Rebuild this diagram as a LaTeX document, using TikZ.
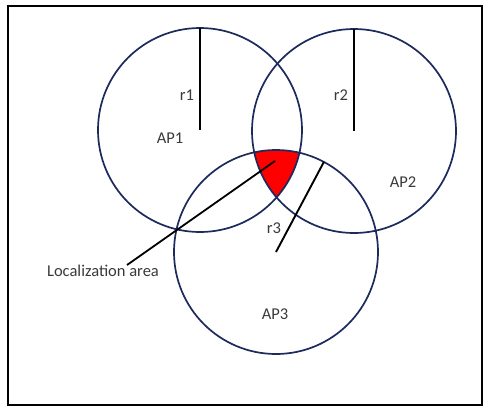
\documentclass[tikz,border=0pt]{standalone}
\usepackage{fontspec}
\setmainfont{Carlito}
\definecolor{navy}{HTML}{1C2A5C}
\definecolor{lbl}{HTML}{3A3A3A}
\begin{document}
\begin{tikzpicture}[x=1pt,y=-1pt,
  apcircle/.style={circle,draw=navy,line width=1.7pt,minimum size=204pt,inner sep=0pt,outer sep=0pt},
  radius/.style={draw=black,line width=1.9pt},
  lab/.style={font=\fontsize{16.5}{16.5}\selectfont,text=lbl,inner sep=0pt}]
\useasboundingbox (0,0) rectangle (485,408);
\fill[white] (0,0) rectangle (485,408);
\draw[line width=2.6pt] (8,6) rectangle (482,405);
% red localization area
\begin{scope}
  \clip (200,130) circle (102);
  \clip (354,131) circle (102);
  \fill[red] (276,252) circle (102);
\end{scope}
\node[apcircle] (c1) at (200,130) {};
\node[apcircle] (c2) at (354,131) {};
\node[apcircle] (c3) at (276,252) {};
% radii
\draw[radius] (c1.center) -- (c1.north);
\draw[radius] (c2.center) -- (c2.north);
\draw[radius] (c3.center) -- (c3.62);
% labels
\node[lab] (r1) at (187,95) {r1};
\node[lab] (r2) at (341,95) {r2};
\node[lab] (r3) at (274,228) {r3};
\node[lab] (ap1) at (170,138) {AP1};
\node[lab] (ap2) at (403,182) {AP2};
\node[lab] (ap3) at (275,314) {AP3};
\node[lab] (loc) at (103,271) {Localization area};
\coordinate (tip) at (275,161);
\coordinate (lx) at (127,0);
\draw[line width=1.8pt] (loc.north -| lx) -- (tip);
\end{tikzpicture}
\end{document}
